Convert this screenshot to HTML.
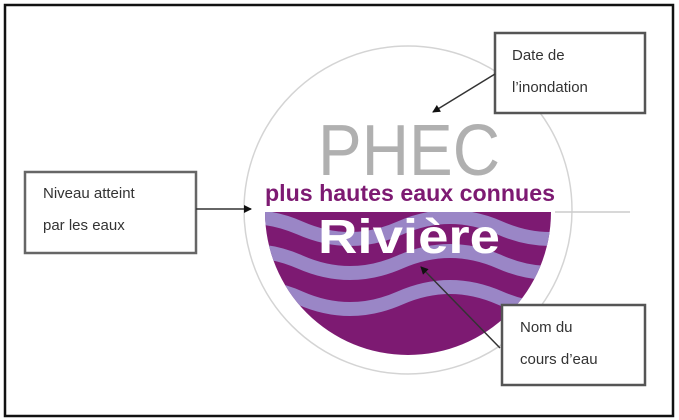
<!DOCTYPE html>
<html><head><meta charset="utf-8"><style>
body{margin:0;background:#fff;}
svg{display:block;}
</style></head><body>
<svg width="679" height="420" viewBox="0 0 679 420" xmlns="http://www.w3.org/2000/svg">
<defs>
<clipPath id="cp"><path d="M265,212 L551,212 A143,143 0 0 1 265,212 Z"/></clipPath>
<marker id="ah" markerWidth="8" markerHeight="8" refX="7" refY="4" orient="auto" markerUnits="userSpaceOnUse"><path d="M0,0 L8,4 L0,8 Z" fill="#111"/></marker>
</defs>
<rect x="5" y="5" width="668" height="411" fill="#fff" stroke="#111" stroke-width="2.5"/>
<circle cx="408" cy="210" r="164" fill="#fff" stroke="#d4d4d4" stroke-width="1.5"/>
<line x1="555" y1="212" x2="630" y2="212" stroke="#ccc" stroke-width="1.5"/>
<g clip-path="url(#cp)">
<rect x="250" y="205" width="320" height="160" fill="#7d1a72"/>
<g fill="none" stroke="#9a86c6" stroke-width="14">
<path d="M200,228 Q250,206 300,228 Q350,250 400,228 Q450,206 500,228 Q550,250 600,228"/>
<path d="M200,262 Q250,240 300,262 Q350,284 400,262 Q450,240 500,262 Q550,284 600,262"/>
<path d="M200,298 Q250,276 300,298 Q350,320 400,298 Q450,276 500,298 Q550,320 600,298"/>
</g>
</g>
<text x="318" y="175" font-family="Liberation Sans, sans-serif" font-size="72" fill="#b0b0b0" textLength="182" lengthAdjust="spacingAndGlyphs">PHEC</text>
<text x="265" y="201" font-family="Liberation Sans, sans-serif" font-size="23" font-weight="bold" fill="#7d1a72" textLength="290" lengthAdjust="spacingAndGlyphs">plus hautes eaux connues</text>
<text x="318" y="253" font-family="Liberation Sans, sans-serif" font-size="48" font-weight="bold" fill="#fff" textLength="182" lengthAdjust="spacingAndGlyphs">Rivière</text>
<g font-family="Liberation Sans, sans-serif" font-size="15" fill="#333">
<rect x="25" y="172" width="171" height="81" fill="#fff" stroke="#666" stroke-width="2.5"/>
<text x="43" y="198">Niveau atteint</text>
<text x="43" y="230">par les eaux</text>
<rect x="495" y="33" width="150" height="80" fill="#fff" stroke="#555" stroke-width="2.5"/>
<text x="512" y="60">Date de</text>
<text x="512" y="92">l’inondation</text>
<rect x="502" y="305" width="143" height="80" fill="#fff" stroke="#555" stroke-width="2.5"/>
<text x="520" y="332">Nom du</text>
<text x="520" y="364">cours d’eau</text>
</g>
<line x1="196" y1="209" x2="251" y2="209" stroke="#333" stroke-width="1.5" marker-end="url(#ah)"/>
<line x1="495" y1="74" x2="433" y2="112" stroke="#333" stroke-width="1.5" marker-end="url(#ah)"/>
<line x1="500" y1="348" x2="421" y2="267" stroke="#333" stroke-width="1.5" marker-end="url(#ah)"/>
</svg>
</body></html>
